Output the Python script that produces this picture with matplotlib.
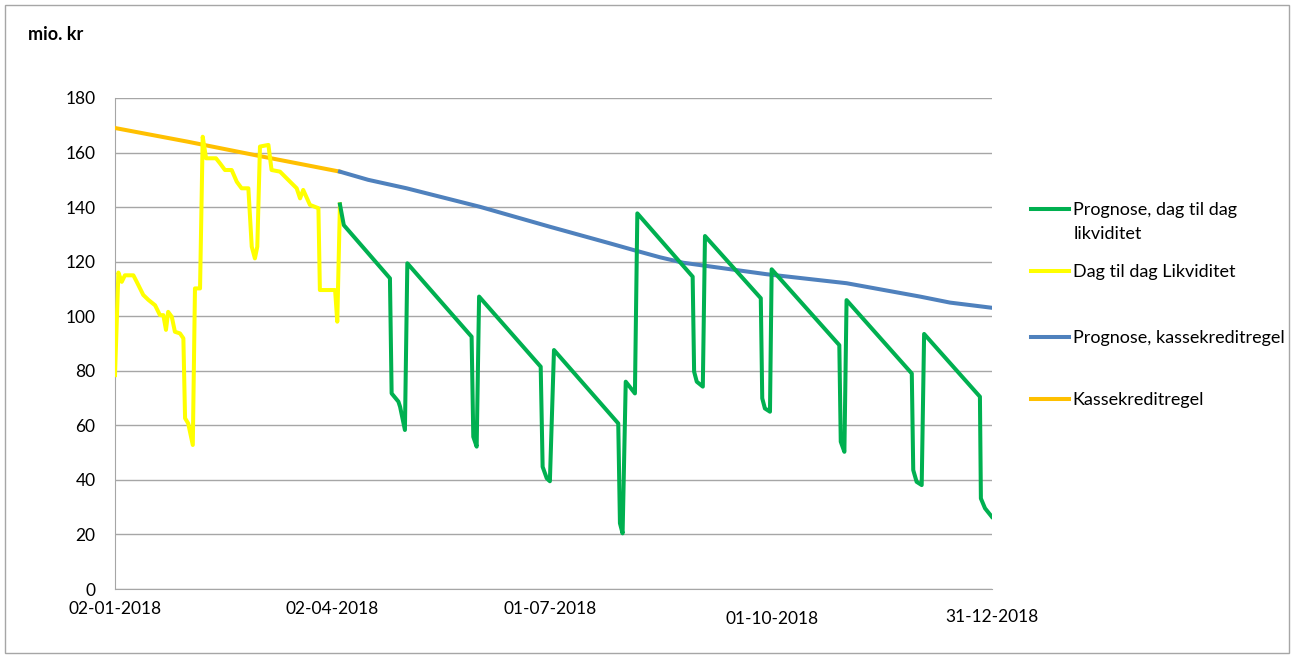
import matplotlib
matplotlib.use("Agg")
from matplotlib import pyplot as plt
from matplotlib.patches import Rectangle

plt.rcParams['font.family'] = ['Lato', 'DejaVu Sans']
plt.rcParams['lines.solid_joinstyle'] = 'round'

# day offsets from 02-01-2018
tick_days = [0, 90, 180, 272, 363]
tick_labels = ["02-01-2018", "02-04-2018", "01-07-2018", "01-10-2018", "31-12-2018"]

# Dag til dag Likviditet (actual)
yellow_x = [0.0, 1.4, 2.8, 4.1, 7.6, 9.0, 11.7, 13.8, 16.6, 18.6, 20.0, 21.1, 22.0, 23.5,
            24.8, 26.9, 28.3, 29.0, 30.3, 32.2, 33.1, 35.2, 36.3, 37.7, 41.8, 43.5, 45.5,
            48.3, 50.4, 52.4, 55.2, 56.6, 57.9, 58.9, 60.0, 63.5, 64.8, 68.3, 71.0, 75.2,
            76.6, 77.9, 80.7, 84.2, 84.8, 91.1, 92.0, 93.1]
yellow_y = [78.4, 116, 112.6, 115, 115, 112.6, 107.8, 106, 104, 100.4, 100.4, 95, 101.6, 99.8,
            94.3, 93.7, 91.9, 62.6, 60.7, 52.8, 110.2, 110.2, 165.8, 157.9, 157.9, 156, 153.6,
            153.6, 149.3, 146.9, 146.9, 125.5, 121.2, 125.5, 162.2, 162.8, 153.6, 153, 150.6, 146.9,
            143.2, 146.3, 140.8, 139.6, 109.6, 109.6, 98, 141]

# Prognose, dag til dag likviditet
green_x = [93.1, 94.7, 113.8, 114.5, 117.3, 118.0, 120.0, 121.0, 147.6, 148.3, 149.7, 150.7,
           176.2, 177.0, 178.7, 180.0, 181.7, 208.3, 209.0, 210.1, 211.4, 215.2, 216.2, 239.1,
           239.7, 240.8, 243.3, 244.2, 267.3, 267.9, 269.0, 271.1, 271.8, 299.8, 300.4, 301.9,
           302.8, 329.8, 330.4, 331.8, 333.9, 334.9, 358.0, 358.4, 360.1, 362.9]
green_y = [141, 133.4, 113.9, 71.7, 68.7, 66.8, 58.3, 119.4, 92.5, 55.8, 52.2, 107.2,
           81.5, 44.8, 40.6, 39.5, 87.6, 60.7, 24.1, 20.4, 76, 71.7, 137.7, 114.5,
           79.7, 76, 74.2, 129.4, 106.6, 69.9, 66.2, 65, 117.2, 89.4, 54, 50.3,
           105.9, 79, 43.6, 39.3, 38.1, 93.5, 70.5, 33.2, 29.6, 26.5]

# Kassekreditregel
orange_x = [0, 30, 60, 93.1]
orange_y = [169, 164, 158.7, 153]

# Prognose, kassekreditregel
blue_x = [93.1, 104.8, 120.7, 151.1, 180.0, 204.9, 214.5, 225.6, 235.2, 269.7, 302.8,
          333.2, 345.6, 362.9]
blue_y = [153, 150, 146.9, 140.1, 132.8, 126.7, 124.3, 121.6, 119.6, 115.4, 112.1,
          107.2, 105, 103.1]

fig = plt.figure(figsize=(12.92, 6.58), dpi=100)
ax = fig.add_axes([115/1292, 69/658, 877/1292, 491/658])

lw = 2.9
l_orange, = ax.plot(orange_x, orange_y, color="#FFC000", lw=lw, zorder=3)
l_yellow, = ax.plot(yellow_x, yellow_y, color="#FFFF00", lw=lw, zorder=4)
l_blue, = ax.plot(blue_x, blue_y, color="#4F81BD", lw=lw, zorder=3)
l_green, = ax.plot(green_x, green_y, color="#00B050", lw=lw, zorder=4)

ax.set_xlim(0, 363)
ax.set_ylim(0, 180)
ax.set_yticks(range(0, 181, 20))
ax.set_xticks(tick_days)
ax.set_xticklabels(tick_labels, fontsize=12.5)
ax.tick_params(axis='y', labelsize=12.5, length=0, pad=14)
ax.tick_params(axis='x', length=0)
# Excel staggers the date labels a little
pads = [9, 9, 9, 16, 14.5]
for t, p in zip(ax.xaxis.get_major_ticks(), pads):
    t.set_pad(p)

ax.grid(axis='y', color="#a6a6a6", lw=1)
ax.set_axisbelow(True)
for s in ["top", "right"]:
    ax.spines[s].set_visible(False)
for s in ["left", "bottom"]:
    ax.spines[s].set_color("#a6a6a6")

fig.text(28/1292, 1 - 35/658, "mio. kr", fontsize=13, fontweight="bold", va="center")

# legend entries, placed one by one like the Excel legend
entries = [(l_green, "Prognose, dag til dag", 210),
           (l_yellow, "Dag til dag Likviditet", 272),
           (l_blue, "Prognose, kassekreditregel", 338),
           (l_orange, "Kassekreditregel", 400)]
for line, label, ypix in entries:
    fig.legend([line], [label], loc="center left", bbox_to_anchor=(1031/1292, 1 - ypix/658),
               frameon=False, fontsize=13, handlelength=2.1, handletextpad=0.2,
               borderpad=0, borderaxespad=0)
# second line of the first legend label
fig.text(1074/1292, 1 - 234/658, "likviditet", fontsize=13, va="center")

fig.patches.append(Rectangle((5/1292, 5/658), 1284/1292, 648/658, transform=fig.transFigure,
                             fill=False, edgecolor="#a6a6a6", lw=1))

fig.savefig("out.png", dpi=100)
